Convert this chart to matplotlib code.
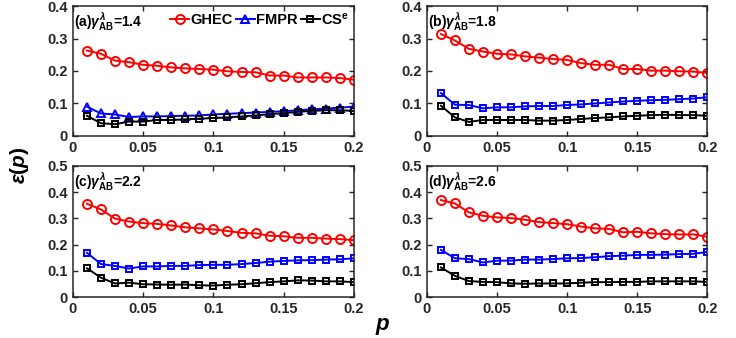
import matplotlib.pyplot as plt
import numpy as np

plt.rcParams['font.family'] = ['Liberation Sans', 'DejaVu Sans']
plt.rcParams['font.weight'] = 'bold'
plt.rcParams['mathtext.fontset'] = 'custom'
plt.rcParams['mathtext.rm'] = 'Liberation Sans:bold'
plt.rcParams['mathtext.it'] = 'Liberation Sans:italic:bold'
plt.rcParams['mathtext.bf'] = 'Liberation Sans:bold'

p = [0.01, 0.02, 0.03, 0.04, 0.05, 0.06, 0.07, 0.08, 0.09, 0.10,
     0.11, 0.12, 0.13, 0.14, 0.15, 0.16, 0.17, 0.18, 0.19, 0.20]

panel_labels = ["(a)", "(b)", "(c)", "(d)"]
gamma_values = ["1.4", "1.8", "2.2", "2.6"]
y_max = [0.4, 0.4, 0.5, 0.5]

ghec_a = [0.263, 0.253, 0.232, 0.227, 0.219, 0.216, 0.211, 0.208, 0.206, 0.204,
          0.199, 0.197, 0.196, 0.186, 0.186, 0.180, 0.180, 0.180, 0.178, 0.173]
fmpr_a = [0.090, 0.069, 0.066, 0.058, 0.060, 0.060, 0.061, 0.062, 0.063, 0.066,
          0.068, 0.070, 0.072, 0.074, 0.076, 0.079, 0.082, 0.084, 0.087, 0.090]
cs_a = [0.062, 0.039, 0.036, 0.044, 0.044, 0.049, 0.049, 0.051, 0.053, 0.055,
        0.057, 0.060, 0.063, 0.067, 0.070, 0.074, 0.077, 0.079, 0.079, 0.077]

ghec_b = [0.314, 0.294, 0.268, 0.260, 0.253, 0.251, 0.245, 0.241, 0.237, 0.234,
          0.224, 0.219, 0.219, 0.206, 0.206, 0.201, 0.201, 0.199, 0.198, 0.194]
fmpr_b = [0.132, 0.096, 0.095, 0.085, 0.088, 0.088, 0.091, 0.092, 0.092, 0.095,
          0.097, 0.100, 0.103, 0.106, 0.108, 0.110, 0.111, 0.113, 0.115, 0.119]
cs_b = [0.093, 0.057, 0.043, 0.049, 0.049, 0.049, 0.049, 0.047, 0.047, 0.049,
        0.052, 0.055, 0.057, 0.060, 0.062, 0.064, 0.065, 0.064, 0.064, 0.062]

ghec_c = [0.356, 0.334, 0.299, 0.288, 0.282, 0.279, 0.273, 0.266, 0.262, 0.258,
          0.252, 0.245, 0.243, 0.234, 0.232, 0.226, 0.226, 0.223, 0.221, 0.217]
fmpr_c = [0.169, 0.126, 0.119, 0.109, 0.117, 0.117, 0.119, 0.119, 0.122, 0.123,
          0.123, 0.126, 0.130, 0.135, 0.138, 0.140, 0.141, 0.143, 0.144, 0.148]
cs_c = [0.110, 0.074, 0.052, 0.055, 0.049, 0.048, 0.047, 0.048, 0.045, 0.044,
        0.047, 0.049, 0.053, 0.057, 0.060, 0.064, 0.063, 0.060, 0.060, 0.057]

ghec_d = [0.370, 0.357, 0.323, 0.310, 0.304, 0.301, 0.295, 0.286, 0.282, 0.278,
          0.269, 0.262, 0.260, 0.247, 0.249, 0.243, 0.240, 0.239, 0.239, 0.230]
fmpr_d = [0.180, 0.148, 0.145, 0.132, 0.139, 0.139, 0.143, 0.143, 0.145, 0.148,
          0.149, 0.152, 0.156, 0.158, 0.161, 0.161, 0.162, 0.164, 0.165, 0.172]
cs_d = [0.113, 0.081, 0.061, 0.058, 0.057, 0.052, 0.051, 0.052, 0.052, 0.052,
        0.055, 0.057, 0.057, 0.058, 0.058, 0.060, 0.060, 0.060, 0.060, 0.058]

ghec = [ghec_a, ghec_b, ghec_c, ghec_d]
fmpr = [fmpr_a, fmpr_b, fmpr_c, fmpr_d]
cs = [cs_a, cs_b, cs_c, cs_d]
fmpr_marker = ["^", "s", "s", "s"]

fig = plt.figure(figsize=(7.36, 3.38), dpi=100)

# [left, bottom, width, height] for each panel
positions = [
    [0.099, 0.598, 0.382, 0.384],
    [0.580, 0.598, 0.381, 0.384],
    [0.099, 0.121, 0.382, 0.388],
    [0.580, 0.121, 0.381, 0.388],
]

for i in range(4):
    ax = fig.add_axes(positions[i])
    ax.plot(p, ghec[i], color="red", marker="o", markersize=6.5, markerfacecolor="none",
            markeredgewidth=1.4, linewidth=1.4, label="GHEC")
    ax.plot(p, fmpr[i], color="blue", marker=fmpr_marker[i],
            markersize=6 if fmpr_marker[i] == "^" else 5, markerfacecolor="none",
            markeredgewidth=1.4, linewidth=1.4, label="FMPR")
    ax.plot(p, cs[i], color="black", marker="s", markersize=5, markerfacecolor="none",
            markeredgewidth=1.4, linewidth=1.4, label="CS$^{\\mathbf{e}}$")

    ax.set_xlim(0, 0.2)
    ax.set_ylim(0, y_max[i])
    ax.set_xticks([0, 0.05, 0.1, 0.15, 0.2])
    ax.set_xticklabels(["0", "0.05", "0.1", "0.15", "0.2"])
    yt = np.arange(0, y_max[i] + 0.001, 0.1)
    ax.set_yticks(yt)
    ax.set_yticklabels(["0"] + [f"{v:.1f}" for v in yt[1:]])
    ax.tick_params(direction="in", top=True, right=True, labelsize=10.5, length=3.5,
                   width=1.0, color="#262626", labelcolor="#262626")
    for lbl in ax.get_xticklabels() + ax.get_yticklabels():
        lbl.set_fontweight("bold")
    for s in ax.spines.values():
        s.set_linewidth(1.1)
        s.set_color("#262626")

    ax.text(0.005, 0.97, panel_labels[i] + r"$\gamma^{\lambda}_{\mathbf{AB}}$=" + gamma_values[i],
            transform=ax.transAxes, ha="left", va="top", fontsize=10, fontweight="bold")

    if i == 0:
        ax.legend(loc="upper right", ncol=3, frameon=False,
                  handlelength=1.3, handletextpad=0.1, columnspacing=0.2,
                  borderaxespad=0.15, borderpad=0.2, prop={"weight": "bold", "size": 10.5})

fig.text(0.027, 0.51, r"$\epsilon(p)$", rotation=90, ha="center", va="center", fontsize=15)
fig.text(0.52, 0.035, r"$p$", ha="center", va="center", fontsize=16)

fig.savefig("out.png", dpi=100)
